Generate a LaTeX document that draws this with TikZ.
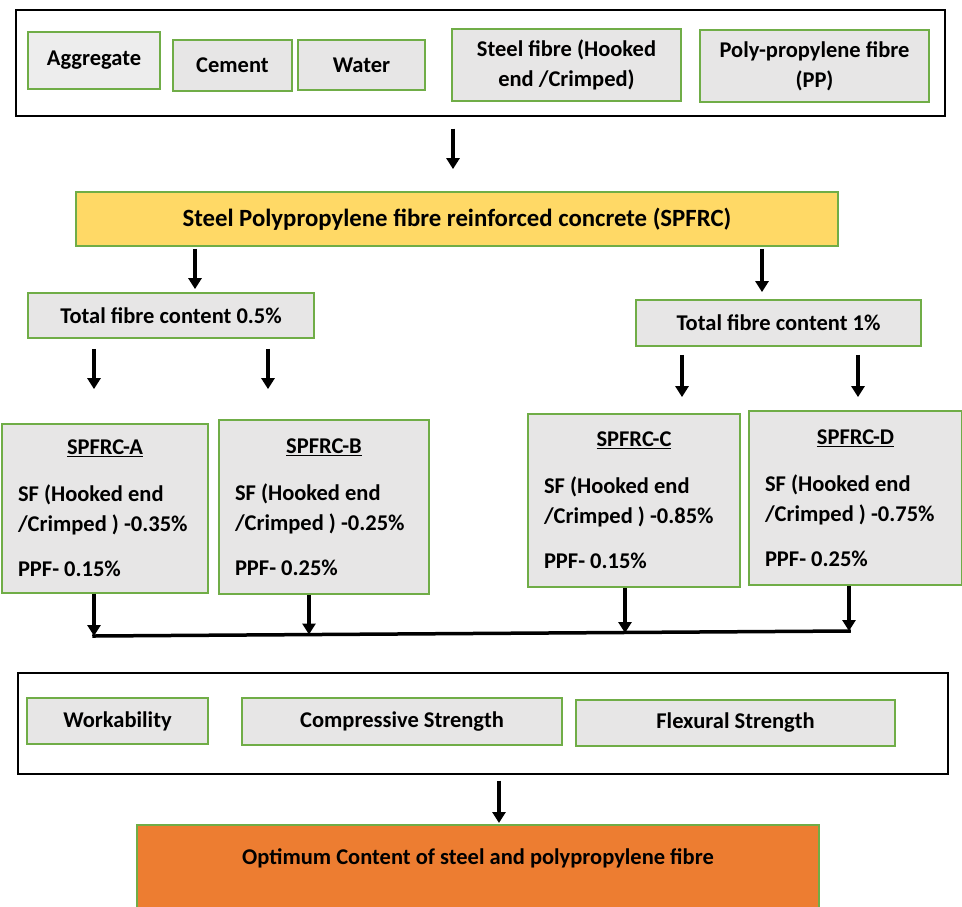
\documentclass[tikz,border=0pt]{standalone}
\usepackage{fontspec}
\setmainfont{Carlito}
\usetikzlibrary{arrows.meta}
\definecolor{edge}{RGB}{112, 173, 71}
\definecolor{pale}{RGB}{231, 230, 230}
\definecolor{paler}{RGB}{237, 237, 237}
\definecolor{mixgold}{RGB}{255, 217, 102}
\definecolor{optorange}{RGB}{237, 125, 49}
\newcommand*{\fs}{\fontsize{22.5}{30}\selectfont\bfseries}
\newcommand*{\mixtitle}[1]{\hbox to \hsize{\hss\underline{#1}\hss}}

\begin{document}
\begin{tikzpicture}[
   x=1pt, y=-1pt,
   ingbox/.style={rectangle, draw=edge, fill=pale, line width=1.8, text=black,
                  inner sep=2, align=center, font=\fs},
   mixbox/.style={ingbox, align=flush left, inner xsep=16},
   framebox/.style={rectangle, draw=black, line width=1.2, inner sep=0},
   arr/.style={-{Triangle[length=11pt, width=13pt]}, line width=3.5, black},
   bar/.style={line width=3.5, black, line cap=rect}
  ]

  \useasboundingbox (0, 0) rectangle (962, 906);

  % Inputs
  \node (inputs) at (480.5, 63) [framebox, minimum width=929, minimum height=106] {};
  \node (agg) at (94, 60.5) [ingbox, fill=paler, minimum width=132, minimum height=57] {Aggregate};
  \node (cem) at (232.5, 65.5) [ingbox, minimum width=119, minimum height=51] {Cement};
  \node (wat) at (361.5, 65) [ingbox, minimum width=127, minimum height=50] {Water};
  \node (sf) at (566.5, 65) [ingbox, minimum width=229, minimum height=72] {Steel fibre (Hooked\\end /Crimped)};
  \node (pp) at (814.5, 66) [ingbox, minimum width=229, minimum height=72] {Poly-propylene fibre\\(PP)};

  % Mix
  \node (spfrc) at (457, 219) [ingbox, fill=mixgold, minimum width=762, minimum height=54,
                               font=\fontsize{24.8}{30}\selectfont\bfseries]
        {Steel Polypropylene fibre reinforced concrete (SPFRC)};
  \node (tfa) at (171, 315.5) [ingbox, minimum width=286, minimum height=45] {Total fibre content 0.5\%};
  \node (tfb) at (778.5, 323) [ingbox, minimum width=285, minimum height=46] {Total fibre content 1\%};

  \node (sA) at (105, 508.5) [mixbox, text width=174, minimum height=169]
        {\mixtitle{SPFRC-A}\\[17pt] SF (Hooked end\\\mbox{/Crimped ) -0.35\%}\\[15pt] PPF- 0.15\%};
  \node (sB) at (324, 507) [mixbox, text width=178, minimum height=174]
        {\mixtitle{SPFRC-B}\\[17pt] SF (Hooked end\\\mbox{/Crimped ) -0.25\%}\\[15pt] PPF- 0.25\%};
  \node (sC) at (634, 500.5) [mixbox, text width=180, minimum height=173]
        {\mixtitle{SPFRC-C}\\[17pt] SF (Hooked end\\\mbox{/Crimped ) -0.85\%}\\[15pt] PPF- 0.15\%};
  \node (sD) at (855.5, 498) [mixbox, text width=181, minimum height=174]
        {\mixtitle{SPFRC-D}\\[17pt] SF (Hooked end\\\mbox{/Crimped ) -0.75\%}\\[15pt] PPF- 0.25\%};

  % Tests
  \node (tests) at (483, 723.5) [framebox, minimum width=930, minimum height=101] {};
  \node (work) at (117.5, 721) [ingbox, minimum width=181, minimum height=46] {Workability};
  \node (comp) at (402, 721.5) [ingbox, minimum width=320, minimum height=47] {Compressive Strength};
  \node (flex) at (735.5, 723) [ingbox, minimum width=319, minimum height=46] {Flexural Strength};

  \node (opt) at (478, 824) [ingbox, fill=optorange, anchor=north, minimum width=682,
                             text height=40, text depth=60, inner ysep=0]
        {Optimum Content of steel and polypropylene fibre};

  % Arrows
  \draw[arr] ([xshift=-27.5pt, yshift=-12pt]inputs.south) -- ([xshift=-4pt, yshift=22pt]spfrc.north);
  \draw[arr] ([xshift=-262pt, yshift=-2pt]spfrc.south) -- ([xshift=24pt, yshift=3pt]tfa.north);
  \draw[arr] ([xshift=305pt, yshift=-2pt]spfrc.south) -- ([xshift=-16.5pt, yshift=7pt]tfb.north);
  \draw[arr] ([xshift=-77pt, yshift=-10pt]tfa.south) -- ([xshift=-11pt, yshift=34pt]sA.north);
  \draw[arr] ([xshift=97pt, yshift=-10pt]tfa.south) -- ([xshift=-56pt, yshift=30pt]sB.north);
  \draw[arr] ([xshift=-96.5pt, yshift=-8pt]tfb.south) -- ([xshift=48pt, yshift=16pt]sC.north);
  \draw[arr] ([xshift=79.5pt, yshift=-8pt]tfb.south) -- ([xshift=2.5pt, yshift=13pt]sD.north);

  \coordinate (jA) at (94, 636);
  \coordinate (jB) at (309, 634.5);
  \coordinate (jC) at (625, 633);
  \coordinate (jD) at (849, 631);
  \foreach \N/\J in {sA/jA, sB/jB, sC/jC, sD/jD} {
    \draw[arr] (\N.south -| \J) -- (\J);
  }
  \draw[bar] (jA) -- (jD);

  \draw[arr] ([xshift=16pt, yshift=-6pt]tests.south) -- ([xshift=21pt, yshift=1pt]opt.north);

\end{tikzpicture}
\end{document}
